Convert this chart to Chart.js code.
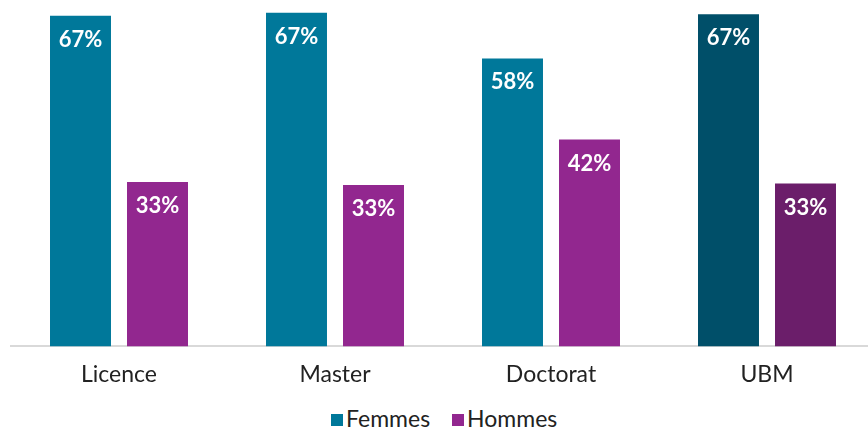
<!DOCTYPE html>
<html>
<head>
<meta charset="utf-8">
<script src="https://cdn.jsdelivr.net/npm/chart.js@4"></script>
<style>
  html, body { margin: 0; padding: 0; background: #fff; overflow: hidden; }
  #wrap { position: absolute; left: 0; top: 0; width: 880px; height: 394px; }
  #legend { position: absolute; left: 331px; top: 405px; font: 23px Lato; color: #222; line-height: 26px; white-space: nowrap; }
  #legend span.item { display: inline-block; margin-right: 22px; }
  #legend span.box { display: inline-block; width: 12px; height: 12px; margin-right: 3px; vertical-align: 1px; }
</style>
</head>
<body>
<div id="wrap"><canvas id="chart"></canvas></div>
<div id="legend"></div>
<script>
// Categories and values (share of women / men, in %)
const categories = ['Licence', 'Master', 'Doctorat', 'UBM'];
const femmes = [66.8, 67.4, 58.2, 67.1];
const hommes = [33.2, 32.6, 41.8, 32.9];
const seriesNames = ['Femmes', 'Hommes'];

const femmesColors = ['#00789a', '#00789a', '#00789a', '#004f69'];
const hommesColors = ['#92278f', '#92278f', '#92278f', '#6b1e6a'];

// Draws the rounded percentage inside the top of each bar
const barLabels = {
    id: 'barLabels',
    afterDatasetsDraw(chart) {
        const ctx = chart.ctx;
        ctx.save();
        ctx.fillStyle = '#ffffff';
        ctx.font = 'bold 22px Lato';
        ctx.textAlign = 'center';
        ctx.textBaseline = 'middle';
        chart.data.datasets.forEach((ds, i) => {
            chart.getDatasetMeta(i).data.forEach((bar, j) => {
                ctx.fillText(Math.round(ds.data[j]) + '%', bar.x, bar.y + 24);
            });
        });
        ctx.restore();
    }
};

const chart = new Chart(document.getElementById('chart'), {
    type: 'bar',
    data: {
        labels: categories,
        datasets: [{
            label: seriesNames[0],
            data: femmes,
            backgroundColor: femmesColors,
            categoryPercentage: 0.713,
            barPercentage: 0.792
        }, {
            label: seriesNames[1],
            data: hommes,
            backgroundColor: hommesColors,
            categoryPercentage: 0.713,
            barPercentage: 0.792
        }]
    },
    options: {
        responsive: true,
        maintainAspectRatio: false,
        animation: false,
        layout: {
            padding: { left: 11, right: 5, top: 0, bottom: 0 }
        },
        plugins: {
            tooltip: { enabled: false },
            legend: { display: false }
        },
        scales: {
            x: {
                grid: { display: false },
                border: { display: true, color: '#d9d9d9', width: 2 },
                ticks: {
                    color: '#222',
                    font: { family: 'Lato', size: 23 },
                    padding: 6
                }
            },
            y: {
                display: false,
                min: 0,
                max: 70
            }
        }
    },
    plugins: [barLabels]
});

// Simple HTML legend built from the datasets
const legend = document.getElementById('legend');
chart.data.datasets.forEach(ds => {
    const item = document.createElement('span');
    item.className = 'item';
    const box = document.createElement('span');
    box.className = 'box';
    box.style.background = ds.backgroundColor[0];
    item.appendChild(box);
    item.appendChild(document.createTextNode(ds.label));
    legend.appendChild(item);
});
</script>
</body>
</html>
